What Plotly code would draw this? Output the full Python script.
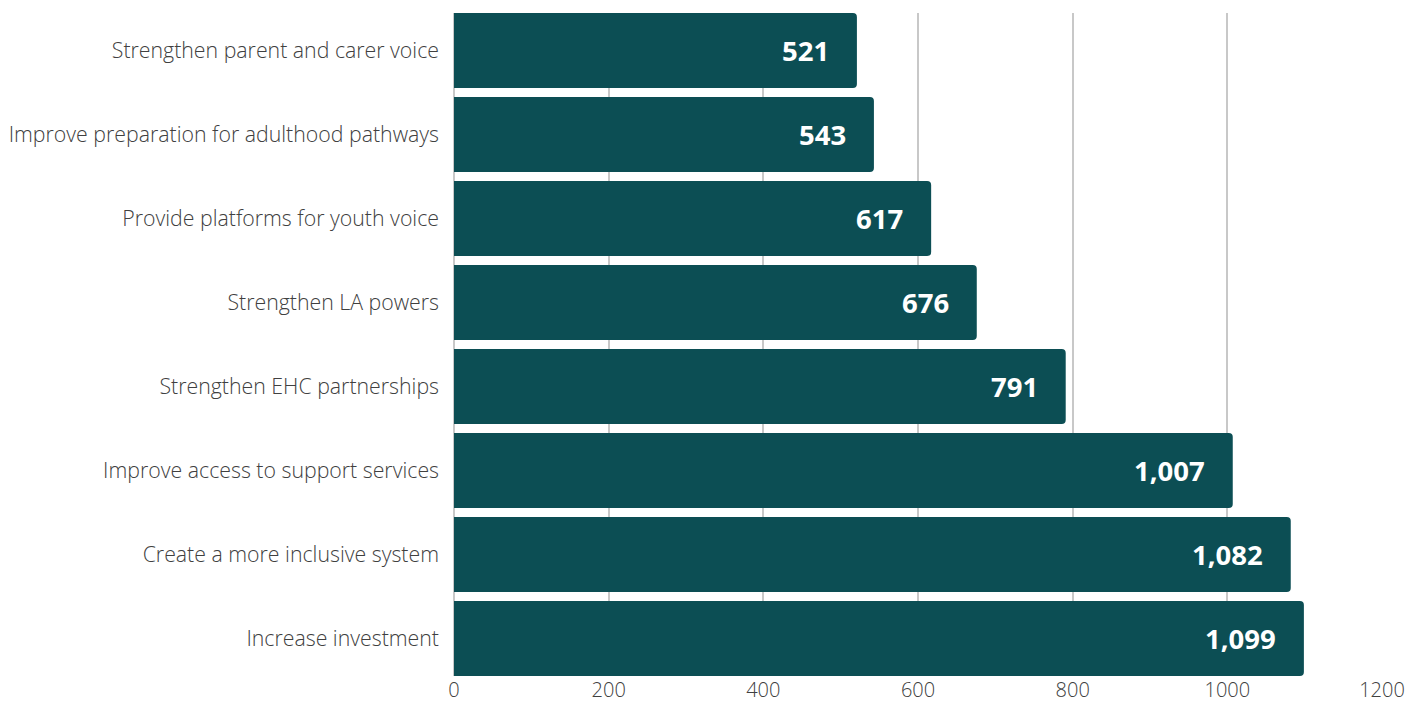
import plotly.graph_objects as go

# Categories listed bottom-to-top (Plotly places the first category at the bottom)
categories = [
    "Increase investment",
    "Create a more inclusive system",
    "Improve access to support services",
    "Strengthen EHC partnerships",
    "Strengthen LA powers",
    "Provide platforms for youth voice",
    "Improve preparation for adulthood pathways",
    "Strengthen parent and carer voice",
]
counts = [1099, 1082, 1007, 791, 676, 617, 543, 521]
x_ticks = [0, 200, 400, 600, 800, 1000, 1200]

BAR = "#0c4e54"
GAP = 0.107
LABEL_FONT = dict(family="Open Sans", size=21.3, color="#404040", weight=300)
X_TICK_FONT = dict(family="Open Sans", size=20, color="#404040", weight=300)

fig = go.Figure(
    go.Bar(
        x=counts,
        y=categories,
        orientation="h",
        marker=dict(color=BAR, line=dict(width=0)),
        hoverinfo="skip",
    )
)

# Value labels inside the bar end
for cat, v in zip(categories, counts):
    fig.add_annotation(
        x=v, y=cat, xref="x", yref="y",
        text=f"{v:,}",
        xanchor="right", yanchor="middle",
        xshift=-26, showarrow=False,
        font=dict(family="Open Sans", size=27.5, color="white", weight="bold"),
    )

fig.update_layout(
    width=1422, height=704,
    margin=dict(l=454, r=40, t=13, b=28),
    paper_bgcolor="white", plot_bgcolor="white",
    bargap=GAP,
    barcornerradius=4,
    showlegend=False,
    font=dict(family="Open Sans", color="#404040"),
    xaxis=dict(
        range=[0, 1200],
        tickvals=x_ticks,
        showgrid=True, gridcolor="#c8c8c8", gridwidth=1.5,
        zeroline=True, zerolinecolor="#c8c8c8", zerolinewidth=1.5,
        showline=False,
        ticks="", ticklabelstandoff=0,
        tickfont=X_TICK_FONT,
        automargin=False,
        fixedrange=True,
    ),
    yaxis=dict(
        type="category",
        range=[-0.5 + GAP / 2, len(categories) - 0.5 - GAP / 2],
        showgrid=False, zeroline=False, showline=False,
        ticks="", ticklabelstandoff=14,
        tickfont=LABEL_FONT,
        automargin=False,
        fixedrange=True,
    ),
)

fig.write_html("out.html")
